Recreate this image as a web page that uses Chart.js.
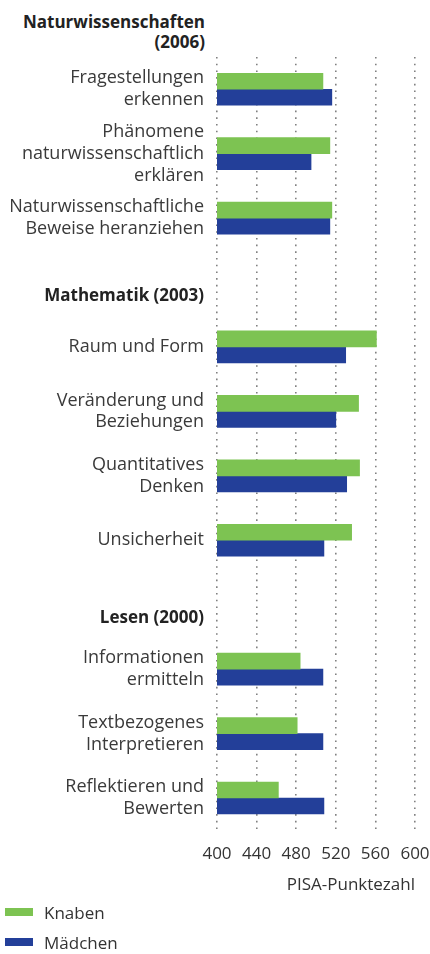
<!DOCTYPE html>
<html lang="de">
<head>
<meta charset="utf-8">
<title>PISA Knaben Mädchen</title>
<script src="https://cdn.jsdelivr.net/npm/chart.js@4.4.1/dist/chart.umd.min.js"></script>
<style>
    html, body { margin: 0; padding: 0; background: #fff; }
    body { font-family: 'Open Sans', sans-serif; color: #333; }
    #wrap { position: relative; width: 430px; height: 954px; }
    #head {
        position: absolute; left: 0; top: 12px; width: 205px;
        text-align: right; font-weight: bold; font-size: 17px; line-height: 20px; color: #222;
    }
    #box { position: absolute; left: 0; top: 0; width: 430px; height: 901px; }
    #legend { position: absolute; left: 5px; top: 897px; font-size: 17px; color: #333; }
    .item { display: flex; align-items: center; height: 30px; }
    .swatch { width: 28px; height: 8px; margin-right: 11px; }
</style>
</head>
<body>
<div id="wrap">
    <div id="head">Naturwissenschaften<br>(2006)</div>
    <div id="box"><canvas id="chart"></canvas></div>
    <div id="legend"></div>
</div>
<script>
// categories (section headers have no bars)
const categories = [
    ['Fragestellungen', 'erkennen'],
    ['Phänomene', 'naturwissenschaftlich', 'erklären'],
    ['Naturwissenschaftliche', 'Beweise heranziehen'],
    ['', 'Mathematik (2003)'],
    'Raum und Form',
    ['Veränderung und', 'Beziehungen'],
    ['Quantitatives', 'Denken'],
    'Unsicherheit',
    ['', 'Lesen (2000)'],
    ['Informationen', 'ermitteln'],
    ['Textbezogenes', 'Interpretieren'],
    ['Reflektieren und', 'Bewerten']
];
const headerRows = [3, 8];

const seriesNames = ['Knaben', 'Mädchen'];
const seriesColors = ['#7dc352', '#233f99'];
const knaben  = [507, 514, 516, null, 561, 543, 544, 536, null, 484, 481, 462];
const maedchen = [516, 495, 514, null, 530, 520, 531, 508, null, 507, 507, 508];

const xMin = 400;
const xMax = 600;
const xStep = 40;
const xTitle = 'PISA-Punktezahl';

// legend as html
const legendEl = document.getElementById('legend');
seriesNames.forEach((name, i) => {
    const item = document.createElement('div');
    item.className = 'item';
    const sw = document.createElement('span');
    sw.className = 'swatch';
    sw.style.background = seriesColors[i];
    item.appendChild(sw);
    item.appendChild(document.createTextNode(name));
    legendEl.appendChild(item);
});

const ctx = document.getElementById('chart').getContext('2d');
new Chart(ctx, {
    type: 'bar',
    data: {
        labels: categories,
        datasets: [
            {
                label: seriesNames[0],
                data: knaben,
                backgroundColor: seriesColors[0],
                barThickness: 16,
                categoryPercentage: 0.59
            },
            {
                label: seriesNames[1],
                data: maedchen,
                backgroundColor: seriesColors[1],
                barThickness: 16,
                categoryPercentage: 0.59
            }
        ]
    },
    options: {
        indexAxis: 'y',
        responsive: true,
        maintainAspectRatio: false,
        animation: false,
        layout: {
            padding: { top: 57, right: 0, bottom: 2, left: 0 }
        },
        plugins: {
            legend: { display: false },
            tooltip: { enabled: false }
        },
        scales: {
            x: {
                min: xMin,
                max: xMax,
                ticks: {
                    stepSize: xStep,
                    color: '#333',
                    padding: 14,
                    font: { family: "'Open Sans', sans-serif", size: 17 }
                },
                grid: {
                    color: '#808080',
                    lineWidth: 1.6,
                    drawTicks: false
                },
                border: { display: false, dash: [1.6, 5.1] },
                title: {
                    display: true,
                    text: xTitle,
                    align: 'end',
                    color: '#333',
                    padding: { top: -4, bottom: 4 },
                    font: { family: "'Open Sans', sans-serif", size: 17 }
                },
                // keep room on the right only for the last tick label
                afterFit: (scale) => { scale.paddingRight = 15; }
            },
            y: {
                grid: { display: false },
                border: { display: false },
                ticks: {
                    autoSkip: false,
                    padding: 5,
                    color: (c) => headerRows.includes(c.index) ? '#222' : '#3a3a3a',
                    font: (c) => headerRows.includes(c.index)
                        ? { family: "'Open Sans', sans-serif", size: 17, weight: 'bold', lineHeight: 1.6 }
                        : { family: "'Open Sans', sans-serif", size: 18, lineHeight: 1.22 }
                },
                afterFit: (scale) => { scale.width = 217; }
            }
        }
    }
});
</script>
</body>
</html>
